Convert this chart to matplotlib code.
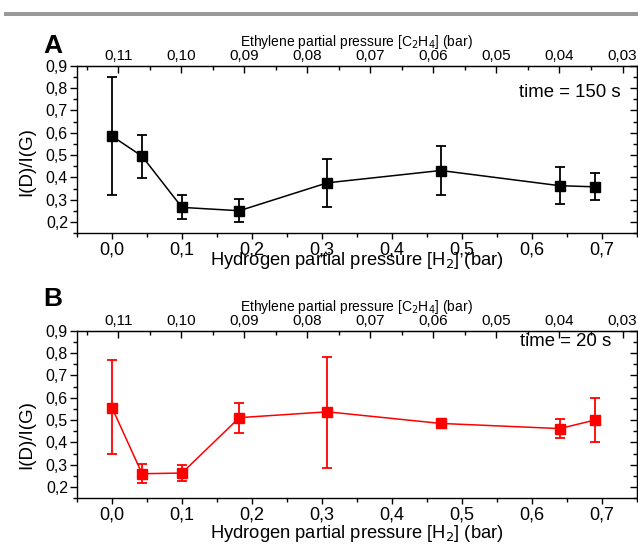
import numpy as np
import matplotlib
matplotlib.use('Agg')
import matplotlib.pyplot as plt
from matplotlib.lines import Line2D
from matplotlib.ticker import MultipleLocator, FuncFormatter, FixedLocator

plt.rcParams['font.family'] = ['Liberation Sans', 'DejaVu Sans']

# Hydrogen partial pressure (bar)
h2 = [0.0, 0.043, 0.10, 0.182, 0.308, 0.47, 0.64, 0.69]

# Panel A: time = 150 s
ratio_a = [0.585, 0.495, 0.266, 0.251, 0.376, 0.431, 0.363, 0.358]
lo_a = [0.321, 0.396, 0.212, 0.201, 0.266, 0.321, 0.279, 0.299]
hi_a = [0.851, 0.590, 0.321, 0.302, 0.482, 0.540, 0.448, 0.418]

# Panel B: time = 20 s
ratio_b = [0.556, 0.260, 0.263, 0.511, 0.537, 0.485, 0.462, 0.500]
lo_b = [0.347, 0.218, 0.227, 0.442, 0.287, 0.475, 0.422, 0.404]
hi_b = [0.767, 0.302, 0.300, 0.577, 0.783, 0.495, 0.504, 0.597]

eth_ticks = [0.11, 0.10, 0.09, 0.08, 0.07, 0.06, 0.05, 0.04, 0.03]


def h2e(h):
    return 0.111 * (1 - np.asarray(h, dtype=float))


def e2h(e):
    return 1 - np.asarray(e, dtype=float) / 0.111


comma1 = FuncFormatter(lambda v, p: f"{v:.1f}".replace('.', ','))
comma2 = FuncFormatter(lambda v, p: f"{v:.2f}".replace('.', ','))

fig = plt.figure(figsize=(6.38, 5.44), dpi=100)

# grey rule at the top
fig.add_artist(Line2D([6 / 638, 1.0], [1 - 13.5 / 544, 1 - 13.5 / 544],
                      color='#999999', lw=2.9))

axA = fig.add_axes([77 / 638, 1 - 233.3 / 544, 559.7 / 638, 167.6 / 544])
axB = fig.add_axes([77 / 638, 1 - 498.3 / 544, 559.7 / 638, 167.6 / 544])

panels = [
    (axA, ratio_a, lo_a, hi_a, 'black', 'time = 150 s', 0.972, 0.843, -0.10, 0.43),
    (axB, ratio_b, lo_b, hi_b, 'red', 'time = 20 s', 0.954, 0.934, -0.15, 0.38),
]

for ax, y, lo, hi, col, tlabel, tx, ty, xly, yly in panels:
    y = np.array(y)
    err = [y - np.array(lo), np.array(hi) - y]
    ax.errorbar(h2, y, yerr=err, color=col, marker='s', markersize=7,
                lw=1.1, elinewidth=1.3, capsize=3.4, capthick=1.3)

    ax.set_xlim(-0.05, 0.75)
    ax.set_ylim(0.15, 0.9)
    ax.xaxis.set_major_locator(MultipleLocator(0.1))
    ax.xaxis.set_minor_locator(MultipleLocator(0.05))
    ax.yaxis.set_minor_locator(MultipleLocator(0.05))
    ax.xaxis.set_major_formatter(comma1)
    ax.set_yticks(np.arange(0.2, 0.91, 0.1))
    ax.yaxis.set_major_formatter(comma1)
    ax.tick_params(axis='x', which='major', direction='out', length=4, width=1,
                   labelsize=13, pad=2)
    ax.tick_params(axis='x', which='minor', direction='out', length=3, width=1)
    ax.tick_params(axis='y', which='major', direction='out', length=5, width=1,
                   labelsize=11.5, pad=1.5)
    ax.tick_params(axis='y', which='minor', direction='out', length=3, width=1)
    for s in ax.spines.values():
        s.set_linewidth(1.0)

    ax.set_xlabel('Hydrogen partial pressure [H$_2$] (bar)', fontsize=13.2)
    ax.xaxis.set_label_coords(0.5, xly)
    ax.set_ylabel('I(D)/I(G)', fontsize=13.5)
    ax.yaxis.set_label_coords(-0.075, yly)

    # top axis: ethylene partial pressure
    top = ax.secondary_xaxis('top', functions=(h2e, e2h))
    top.xaxis.set_major_locator(FixedLocator(eth_ticks))
    top.xaxis.set_minor_locator(MultipleLocator(0.005))
    top.xaxis.set_major_formatter(comma2)
    top.tick_params(axis='x', which='major', direction='in', length=5, width=1,
                    labelsize=11, pad=2)
    top.tick_params(axis='x', which='minor', direction='in', length=3, width=1)
    top.set_xlabel('Ethylene partial pressure [C$_2$H$_4$] (bar)', fontsize=10,
                   labelpad=2)

    # right axis: mirrored ticks only
    right = ax.secondary_yaxis('right')
    right.yaxis.set_major_locator(MultipleLocator(0.1))
    right.yaxis.set_minor_locator(MultipleLocator(0.05))
    right.tick_params(axis='y', which='major', direction='in', length=5, width=1,
                      labelright=False)
    right.tick_params(axis='y', which='minor', direction='in', length=3, width=1)

    ax.text(tx, ty, tlabel, transform=ax.transAxes, ha='right', va='center',
            fontsize=13.4)

fig.text(43 / 638, 1 - 53 / 544, 'A', fontsize=19, fontweight='bold',
         va='baseline', ha='left')
fig.text(43 / 638, 1 - 306.5 / 544, 'B', fontsize=19, fontweight='bold',
         va='baseline', ha='left')

fig.savefig('out.png', dpi=100)
